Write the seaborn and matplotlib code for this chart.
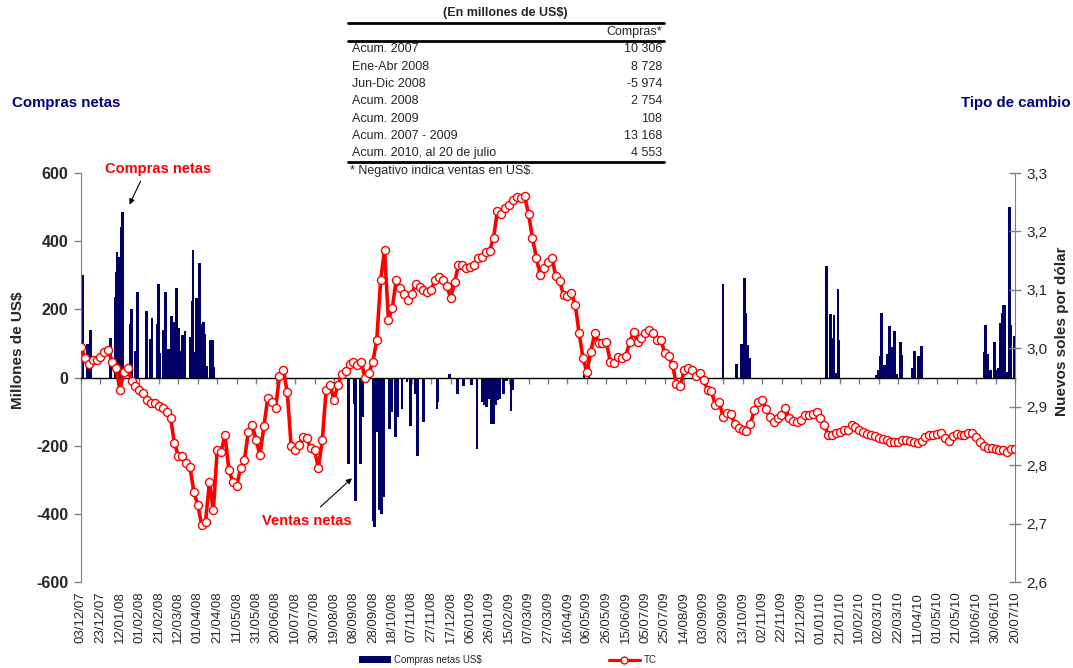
import numpy as np
import pandas as pd
import matplotlib
matplotlib.use("Agg")
import matplotlib.pyplot as plt
import seaborn as sns
from matplotlib.patches import Patch
from matplotlib.lines import Line2D

# ---------------- data ----------------
start_date = pd.Timestamp("2007-12-03")

tick_labels = [
    "03/12/07", "23/12/07", "12/01/08", "01/02/08", "21/02/08", "12/03/08", "01/04/08",
    "21/04/08", "11/05/08", "31/05/08", "20/06/08", "10/07/08", "30/07/08", "19/08/08",
    "08/09/08", "28/09/08", "18/10/08", "07/11/08", "27/11/08", "17/12/08", "06/01/09",
    "26/01/09", "15/02/09", "07/03/09", "27/03/09", "16/04/09", "06/05/09", "26/05/09",
    "15/06/09", "05/07/09", "25/07/09", "14/08/09", "03/09/09", "23/09/09", "13/10/09",
    "02/11/09", "22/11/09", "12/12/09", "01/01/10", "21/01/10", "10/02/10", "02/03/10",
    "22/03/10", "11/04/10", "01/05/10", "21/05/10", "10/06/10", "30/06/10", "20/07/10",
]

# Tipo de cambio (S/. por US$), one reading every 4 days from 03/12/07
tc_step_days = 4
tc_values = [
    3.002, 2.983, 2.973, 2.980, 2.980, 2.985, 2.994, 2.997, 2.977, 2.966,
    2.929, 2.959, 2.966, 2.944, 2.935, 2.929, 2.923, 2.912, 2.906, 2.906,
    2.901, 2.898, 2.891, 2.881, 2.838, 2.816, 2.816, 2.804, 2.797, 2.754,
    2.732, 2.698, 2.703, 2.771, 2.723, 2.826, 2.823, 2.852, 2.792, 2.771,
    2.764, 2.795, 2.809, 2.857, 2.869, 2.843, 2.817, 2.867, 2.915, 2.908,
    2.898, 2.953, 2.963, 2.925, 2.833, 2.826, 2.835, 2.848, 2.846, 2.829,
    2.826, 2.795, 2.843, 2.929, 2.937, 2.912, 2.937, 2.956, 2.961, 2.973,
    2.977, 2.971, 2.977, 2.949, 2.958, 2.977, 3.014, 3.117, 3.168, 3.048,
    3.069, 3.117, 3.103, 3.093, 3.083, 3.093, 3.110, 3.105, 3.100, 3.096,
    3.100, 3.117, 3.122, 3.117, 3.107, 3.086, 3.113, 3.143, 3.143, 3.137,
    3.139, 3.143, 3.155, 3.156, 3.165, 3.167, 3.189, 3.235, 3.230, 3.240,
    3.245, 3.254, 3.259, 3.257, 3.261, 3.230, 3.189, 3.155, 3.125, 3.137,
    3.148, 3.155, 3.124, 3.115, 3.091, 3.090, 3.095, 3.074, 3.026, 2.983,
    2.959, 2.994, 3.026, 3.009, 3.009, 3.011, 2.977, 2.975, 2.985, 2.983,
    2.987, 3.011, 3.028, 3.011, 3.018, 3.026, 3.031, 3.026, 3.014, 3.014,
    2.992, 2.987, 2.971, 2.939, 2.935, 2.963, 2.966, 2.963, 2.953, 2.958,
    2.946, 2.929, 2.927, 2.903, 2.908, 2.882, 2.889, 2.888, 2.870, 2.864,
    2.860, 2.858, 2.870, 2.894, 2.908, 2.912, 2.896, 2.882, 2.874, 2.881,
    2.886, 2.898, 2.881, 2.876, 2.874, 2.877, 2.886, 2.886, 2.888, 2.891,
    2.881, 2.869, 2.852, 2.852, 2.855, 2.857, 2.860, 2.860, 2.869, 2.865,
    2.860, 2.857, 2.853, 2.852, 2.850, 2.846, 2.845, 2.843, 2.840, 2.840,
    2.840, 2.843, 2.843, 2.841, 2.840, 2.838, 2.841, 2.848, 2.852, 2.852,
    2.853, 2.855, 2.846, 2.841, 2.850, 2.853, 2.852, 2.852, 2.855, 2.855,
    2.848, 2.840, 2.833, 2.829, 2.829, 2.828, 2.826, 2.826, 2.823, 2.828,
    2.828,
]

# Compras netas diarias (millones de US$); day = days since 03/12/07
bar_days = [
    2, 7, 10, 30, 35, 36, 37, 39, 41, 43, 51, 52, 56, 58, 67, 71, 73, 78, 80, 81,
    85, 87, 90, 91, 93, 96, 98, 100, 102, 104, 107, 112, 114, 115, 117, 119, 120,
    122, 124, 126, 127, 129, 133, 135, 136,
    275, 281, 282, 287, 289, 300, 302, 305, 307, 309, 311, 317, 319, 323, 325, 330,
    335, 339, 344, 346, 352, 366, 367, 379, 387, 393, 401, 407, 413, 415, 417, 420,
    422, 424, 426, 428, 430, 434, 437, 442, 444,
    517, 522,
    660, 674, 679, 682, 683, 685, 687,
    766, 770, 772, 774, 776, 778, 779,
    818, 820, 822, 823, 825, 826, 829, 831, 832, 834, 836, 838, 842, 843,
    855, 857, 861, 863, 864,
    928, 930, 932, 935, 939, 941, 943, 945, 947, 948, 949, 951, 954, 956, 959,
]
bar_values = [
    302, 97, 140, 116, 236, 309, 368, 353, 443, 485, 157, 201, 79, 252, 194, 114,
    174, 157, 273, 71, 138, 252, 83, 81, 181, 162, 262, 145, 77, 125, 135, 118,
    223, 373, 76, 233, 233, 335, 157, 164, 128, 35, 109, 109, 30,
    -253, -77, -361, -253, -116, -420, -440, -160, -390, -400, -350, -151, -100,
    -175, -116, -92, -14, -141, -48, -230, -131, -92, -72, 10, -48, -26, -21,
    -210, -72, -82, -87, -62, -136, -136, -82, -67, -62, -48, -9, -97, -38,
    6, 70,
    273, 40, 97, 293, 190, 94, 58,
    326, 187, 116, 182, 13, 260, 111,
    6, 21, 62, 190, 38, 38, 70, 152, 21, 89, 135, 9, 103, 65,
    28, 79, 62, 62, 93,
    76, 155, 70, 21, 103, 21, 28, 161, 190, 214, 214, 16, 500, 155, 123,
]

table_title = "(En millones de US$)"
table_header = "Compras*"
table_rows = ["Acum. 2007", "Ene-Abr 2008", "Jun-Dic 2008", "Acum. 2008",
              "Acum. 2009", "Acum. 2007 - 2009", "Acum. 2010, al 20 de julio"]
table_values = ["10 306", "8 728", "-5 974", "2 754", "108", "13 168", "4 553"]
table_note = "* Negativo indica ventas en US$."

# ---------------- style ----------------
W, H = 1073, 668
NAVY = "#000066"
RED = "#FF0000"
GREY = "#808080"

sns.set_style("white")
plt.rcParams["font.family"] = ["Liberation Sans", "DejaVu Sans"]


def px(x, y):
    return x / W, 1 - y / H


fig = plt.figure(figsize=(W / 100, H / 100), dpi=100)
ax = fig.add_axes([81 / W, 1 - 582 / H, 934 / W, 409 / H])
ax2 = ax.twinx()

df_bars = pd.DataFrame({"dia": bar_days, "compras": bar_values})
sns.barplot(data=df_bars, x="dia", y="compras", native_scale=True, color=NAVY,
            saturation=1, width=2.8, linewidth=0, errorbar=None, ax=ax)

tc_days = np.arange(len(tc_values)) * tc_step_days
df_tc = pd.DataFrame({"dia": tc_days, "tc": tc_values})
sns.lineplot(data=df_tc, x="dia", y="tc", ax=ax2, color=RED, linewidth=2.6,
             marker="o", markersize=5.8, markerfacecolor="white",
             markeredgecolor=RED, markeredgewidth=1.0)

# axes limits
tick_pos = [(pd.to_datetime(t, format="%d/%m/%y") - start_date).days for t in tick_labels]
ax.set_xlim(0, tick_pos[-1])
ax.set_ylim(-600, 600)
ax2.set_ylim(2.6, 3.3)
ax.set_xlabel("")
ax.set_ylabel("")
ax2.set_xlabel("")
ax2.set_ylabel("")

# x axis crossing at zero, labels at the bottom
ax.spines["bottom"].set_position(("data", 0))
ax.spines["bottom"].set_color("black")
ax.spines["bottom"].set_linewidth(1.0)
ax.set_xticks(tick_pos)
ax.set_xticklabels([])
ax.tick_params(axis="x", direction="out", length=4, width=1, color=GREY, bottom=True)
sec = ax.secondary_xaxis(0)
sec.set_xticks(tick_pos, labels=tick_labels, rotation=90, fontsize=9.5)
sec.tick_params(length=0, pad=7)
sec.spines["bottom"].set_visible(False)

# left axis
ax.set_yticks(range(-600, 601, 200))
ax.set_yticklabels([str(v) for v in range(-600, 601, 200)], fontsize=11.5, fontweight="bold")
ax.tick_params(axis="y", direction="out", length=5, width=1, color=GREY, left=True, pad=4)
ax.spines["left"].set_color(GREY)
for s in ("top", "right"):
    ax.spines[s].set_visible(False)

# right axis
rticks = np.round(np.arange(2.6, 3.31, 0.1), 1)
ax2.set_yticks(rticks)
ax2.set_yticklabels([f"{v:.1f}".replace(".", ",") for v in rticks], fontsize=11)
ax2.tick_params(axis="y", direction="inout", length=8, width=1, color=GREY, right=True, pad=4)
ax2.spines["right"].set_color(GREY)
for s in ("top", "left", "bottom"):
    ax2.spines[s].set_visible(False)

# axis titles
fig.text(*px(12, 103), "Compras netas", color="#000080", fontsize=10.8,
         fontweight="bold", ha="left", va="center")
fig.text(*px(1071, 103), "Tipo de cambio", color="#000080", fontsize=10.8,
         fontweight="bold", ha="right", va="center")
fig.text(*px(18, 350), "Millones de US$", rotation=90, fontsize=11,
         fontweight="bold", ha="center", va="center")
fig.text(*px(1062, 331), "Nuevos soles por dólar", rotation=90, fontsize=11,
         fontweight="bold", ha="center", va="center")

# annotations
arrow = dict(arrowstyle="-|>", color="black", lw=0.8, mutation_scale=8)
ax.annotate("", xy=(48.6, 500), xytext=(62.4, 583), arrowprops=arrow, annotation_clip=False)
ax.text(79, 613, "Compras netas", color=RED, fontsize=10.5, fontweight="bold",
        ha="center", va="center", clip_on=False)
ax.annotate("", xy=(280.6, -290), xytext=(244, -385), arrowprops=arrow, annotation_clip=False)
ax.text(232, -420, "Ventas netas", color=RED, fontsize=10.5, fontweight="bold",
        ha="center", va="center")

# summary table
x0, x1 = 348, 664
fig.text(*px(505, 13), table_title, fontsize=9, fontweight="bold", ha="center", va="center")
for yl in (23, 41, 162):
    fig.add_artist(Line2D([x0 / W, x1 / W], [1 - yl / H, 1 - yl / H],
                          transform=fig.transFigure, color="black", lw=2.0))
fig.text(*px(x1 - 2, 32.5), table_header, fontsize=9, ha="right", va="center")
row_y = [49.5, 66.8, 84.1, 101.4, 118.7, 136.0, 153.3]
for lab, val, yy in zip(table_rows, table_values, row_y):
    fig.text(*px(352, yy), lab, fontsize=9, ha="left", va="center")
    fig.text(*px(x1 - 2, yy), val, fontsize=9, ha="right", va="center")
fig.text(*px(350, 171), table_note, fontsize=9, ha="left", va="center")

# legend
handles = [
    Patch(facecolor=NAVY, edgecolor="none", label="Compras netas US$"),
    Line2D([], [], color=RED, lw=2.3, marker="o", markersize=5, markerfacecolor="white",
           markeredgecolor=RED, label="TC"),
]
fig.legend(handles=handles, loc="center", bbox_to_anchor=px(508, 660), ncol=2,
           frameon=False, fontsize=7, handlelength=3.2, columnspacing=13,
           handletextpad=0.4, borderpad=0.1)

fig.savefig("out.png", dpi=100)
